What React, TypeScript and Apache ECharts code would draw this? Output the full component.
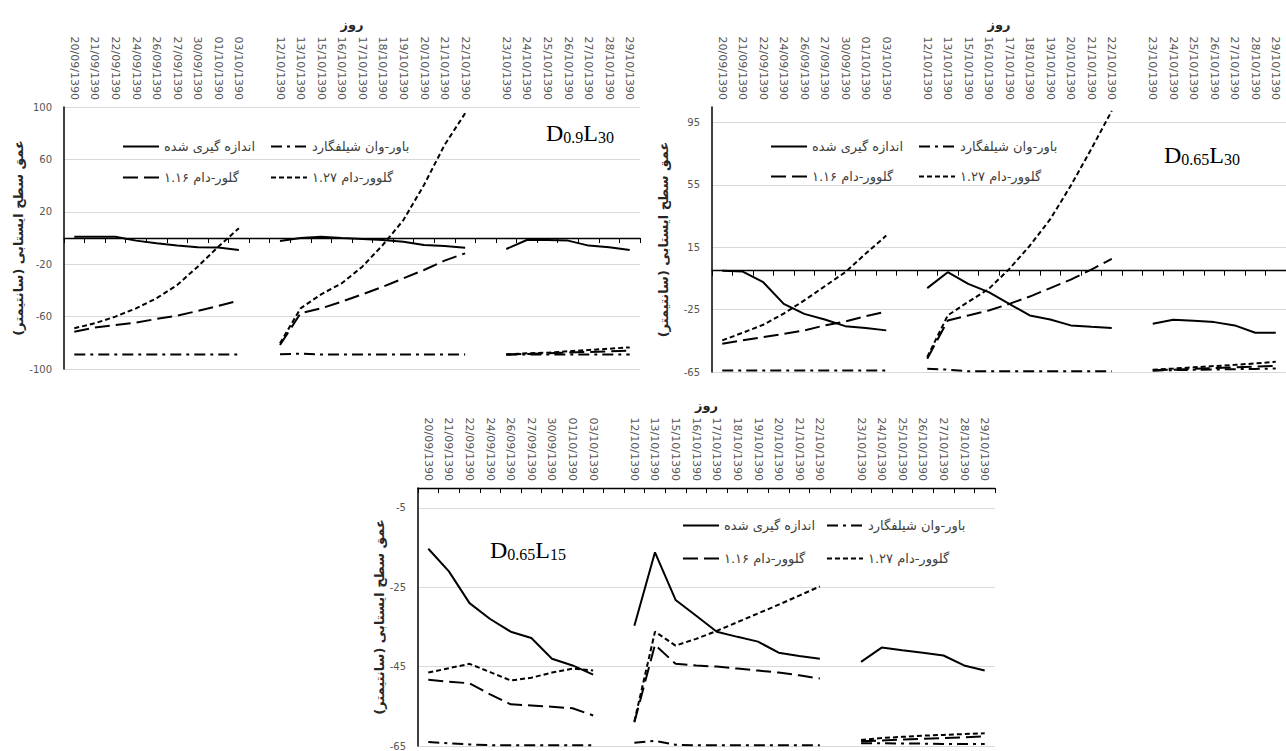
import React, { useEffect, useRef } from "react";
import * as echarts from "echarts";

// ---------- data ----------
const categories = [
  "20/09/1390", "21/09/1390", "22/09/1390", "24/09/1390", "26/09/1390", "27/09/1390",
  "30/09/1390", "01/10/1390", "03/10/1390", " ",
  "12/10/1390", "13/10/1390", "15/10/1390", "16/10/1390", "17/10/1390", "18/10/1390",
  "19/10/1390", "20/10/1390", "21/10/1390", "22/10/1390", "  ",
  "23/10/1390", "24/10/1390", "25/10/1390", "26/10/1390", "27/10/1390", "28/10/1390", "29/10/1390",
];

const nameMeasured = "اندازه گیری شده";
const nameBVS = "باور-وان شیلفگارد";
const nameGD116a = "گلور-دام ۱.۱۶";
const nameGD116 = "گلوور-دام ۱.۱۶";
const nameGD127 = "گلوور-دام ۱.۲۷";
const xName = "روز";
const yName = "\u200Fعمق سطح ایستابی (سانتیمتر)\u200F";

// panel 1 : D0.9L30
const tlMeasured = [1, 1, 1, -2, -4, -5.8, -7, -7.3, -9.2, null, -2.3, 0, 1, 0, -0.8, -1.5, -2.8, -5.3, -6.1, -7.4, null, -8.4, -1.5, -1.5, -2, -5.8, -7, -9.2];
const tlBVS = [-89, -89, -89, -89, -89, -89, -89, -89, -89, null, -88.8, -88.3, -89, -89, -89, -89, -89, -89, -89, -89, null, -89, -89, -89, -89, -89, -89, -89];
const tlGD116 = [-71.5, -68.4, -66.4, -64.6, -61.8, -59.3, -55.7, -51.9, -47.8, null, -81.7, -57.5, -53.7, -48.6, -43, -37.2, -30.8, -24.4, -17.3, -11.7, null, -89, -88.5, -88, -87.5, -87, -86.5, -86];
const tlGD127 = [-68.9, -65.1, -60, -53.7, -46, -35.9, -21.9, -6.6, 7.4, null, -80.4, -53.7, -43, -34.6, -21.9, -5.3, 13.7, 40.5, 71, 95.2, null, -89, -88, -87.5, -86.5, -85.5, -84.5, -83.5];
const tlTicks = [-100, -60, -20, 20, 60, 100];

// panel 2 : D0.65L30
const trMeasured = [0, -0.6, -7.4, -21.3, -27.7, -31.3, -35.6, -36.8, -38.3, null, -11.2, -1, -8.5, -13.8, -21.3, -28.7, -31.3, -35.1, -36, -36.8, null, -34, -31.5, -32.2, -33, -35.1, -39.8, -39.8];
const trBVS = [-64, -64, -64, -64, -64, -64, -64, -64, -64, null, -62.9, -63.5, -64.5, -64.5, -64.5, -64.5, -64.5, -64.5, -64.5, -64.5, null, -64, -63.8, -63.6, -63.4, -63.2, -63, -62.8];
const trGD116 = [-46.9, -44.7, -42.6, -40.5, -38.3, -35.1, -32.6, -29.2, -26.2, null, -56.5, -32, -28.7, -25.5, -21.3, -16.6, -11.2, -5.7, 0.7, 7.5, null, -64, -63.5, -63, -62.5, -62, -61.5, -61];
const trGD127 = [-44.7, -39.8, -34.7, -27.5, -19.1, -10, -1, 11, 22.5, null, -55.4, -28.7, -20, -11.7, 1.1, 16, 33, 54.5, 78, 102.5, null, -63.5, -62.8, -62, -61.2, -60.4, -59.5, -58.5];
const trTicks = [-65, -25, 15, 55, 95];

// panel 3 : D0.65L15
const bMeasured = [-15.3, -21, -29, -33, -36.2, -37.8, -43, -44.7, -47, null, -34.7, -16.2, -28.2, -32.2, -36.2, -37.5, -38.7, -41.5, -42.3, -43, null, -43.8, -40.2, -40.9, -41.5, -42.2, -44.7, -46];
const bBVS = [-64, -64.3, -64.6, -64.8, -64.8, -64.8, -64.8, -64.8, -64.8, null, -64.2, -63.7, -64.7, -64.8, -64.8, -64.8, -64.8, -64.8, -64.8, -64.8, null, -64.3, -64.3, -64.4, -64.4, -64.5, -64.5, -64.5];
const bGD116 = [-48.3, -48.8, -49.2, -52, -54.5, -54.8, -55.1, -55.5, -57.3, null, -59, -39.5, -44.3, -44.7, -45, -45.5, -46, -46.5, -47.2, -48, null, -63.8, -63.6, -63.4, -63.2, -63, -62.8, -62.6];
const bGD127 = [-46.5, -45.4, -44.3, -46.4, -48.5, -47.8, -46.5, -45.5, -46, null, -58.8, -36.2, -39.7, -38, -36, -33.8, -31.6, -29.4, -27.1, -24.8, null, -63.5, -63, -62.7, -62.4, -62.2, -62, -61.8];
const bTicks = [-65, -45, -25, -5];

// ---------- styles ----------
const SANS = "DejaVu Sans";
const SERIF = "Liberation Serif";
const styleMeasured = { color: "#000", width: 2, type: "solid" };
const styleBVS = { color: "#000", width: 2, type: [11, 5, 3, 5] };
const styleGD116 = { color: "#000", width: 2, type: [15, 6] };
const styleGD127 = { color: "#000", width: 2, type: [5, 3] };

const grids = [
  { left: 64, top: 107, width: 576, height: 262 },
  { left: 712, top: 107, width: 580, height: 265 },
  { left: 418, top: 488, width: 577, height: 260 },
];

function labelAxis(gridIndex: number) {
  return {
    type: "category",
    gridIndex,
    position: "top",
    data: categories,
    boundaryGap: true,
    axisLine: { show: false, onZero: false },
    axisTick: { show: false },
    splitLine: { show: false },
    axisLabel: { rotate: 90, interval: 0, margin: 7, fontSize: 11, fontFamily: SANS, color: "#555" },
    name: xName,
    nameLocation: "middle",
    nameGap: 76,
    nameTextStyle: { fontFamily: SANS, fontSize: 13, fontWeight: "bold", color: "#262626" },
  };
}

function zeroAxis(gridIndex: number) {
  return {
    type: "category",
    gridIndex,
    position: "top",
    data: categories,
    boundaryGap: true,
    axisLine: { show: true, onZero: true, lineStyle: { color: "#000", width: 1.3 } },
    axisTick: { show: true, inside: true, length: 5, interval: 0, lineStyle: { color: "#000", width: 1 } },
    axisLabel: { show: false },
    splitLine: { show: false },
  };
}

function valueAxis(gridIndex: number, min: number, max: number, ticks: number[], nameGap: number) {
  return {
    type: "value",
    gridIndex,
    min,
    max,
    axisLine: { show: true, onZero: false, lineStyle: { color: "#000", width: 1.5 } },
    axisTick: { show: false, customValues: ticks },
    axisLabel: { customValues: ticks, fontSize: 10, fontFamily: SANS, color: "#555", margin: 12 },
    splitLine: { show: true, lineStyle: { color: "#d9d9d9", width: 1 } },
    name: yName,
    nameLocation: "middle",
    nameRotate: 90,
    nameGap,
    nameTextStyle: { fontFamily: SANS, fontSize: 13, fontWeight: "bold", color: "#262626" },
  };
}

function lineSeries(name: string, data: (number | null)[], axis: number, lineStyle: any) {
  return {
    type: "line",
    name,
    data,
    xAxisIndex: axis * 2,
    yAxisIndex: axis,
    symbol: "none",
    connectNulls: false,
    lineStyle,
    itemStyle: { color: "#000" },
  };
}

function legendAt(name: string, left: number, centerY: number) {
  return {
    data: [name],
    left,
    top: centerY - 8,
    orient: "horizontal",
    padding: 0,
    itemWidth: 36,
    itemHeight: 10,
    selectedMode: false,
    itemStyle: { color: "rgba(0,0,0,0)", borderWidth: 0, opacity: 0 },
    lineStyle: { color: "#000", opacity: 1 },
    textStyle: { fontFamily: SANS, fontSize: 13, color: "#404040" },
  };
}

function panelLabel(sub1: string, sub2: string, x: number, y: number) {
  return {
    type: "text",
    x,
    y,
    style: {
      text: `{d|D}{s|${sub1}}{d|L}{s|${sub2}}`,
      verticalAlign: "middle",
      align: "left",
      rich: {
        d: { fontFamily: SERIF, fontSize: 24, color: "#000" },
        s: { fontFamily: SERIF, fontSize: 16, color: "#000", verticalAlign: "bottom" },
      },
    },
  };
}

export default function App() {
  const ref = useRef<HTMLDivElement>(null);
  useEffect(() => {
    if (!ref.current) return;
    const chart = echarts.init(ref.current, null, { renderer: "svg" });
    const option: any = {
      animation: false,
      backgroundColor: "#fff",
      grid: grids,
      xAxis: [labelAxis(0), zeroAxis(0), labelAxis(1), zeroAxis(1), labelAxis(2), zeroAxis(2)],
      yAxis: [
        valueAxis(0, -100, 100, tlTicks, 38),
        valueAxis(1, -65, 105, trTicks, 42),
        valueAxis(2, -65, 0, bTicks, 32),
      ],
      legend: [
        legendAt(nameMeasured, 122, 148),
        legendAt(nameBVS, 270, 148),
        legendAt(nameGD116a, 122, 179),
        legendAt(nameGD127, 270, 179),
        legendAt(nameMeasured, 770, 148),
        legendAt(nameBVS, 918, 148),
        legendAt(nameGD116, 770, 178),
        legendAt(nameGD127, 918, 178),
        legendAt(nameMeasured, 682, 527),
        legendAt(nameBVS, 826, 527),
        legendAt(nameGD116, 682, 560),
        legendAt(nameGD127, 826, 560),
      ],
      series: [
        lineSeries(nameMeasured, tlMeasured, 0, styleMeasured),
        lineSeries(nameBVS, tlBVS, 0, styleBVS),
        lineSeries(nameGD116a, tlGD116, 0, styleGD116),
        lineSeries(nameGD127, tlGD127, 0, styleGD127),
        lineSeries(nameMeasured, trMeasured, 1, styleMeasured),
        lineSeries(nameBVS, trBVS, 1, styleBVS),
        lineSeries(nameGD116, trGD116, 1, styleGD116),
        lineSeries(nameGD127, trGD127, 1, styleGD127),
        lineSeries(nameMeasured, bMeasured, 2, styleMeasured),
        lineSeries(nameBVS, bBVS, 2, styleBVS),
        lineSeries(nameGD116, bGD116, 2, styleGD116),
        lineSeries(nameGD127, bGD127, 2, styleGD127),
      ],
      graphic: [
        panelLabel("0.9", "30", 546, 133),
        panelLabel("0.65", "30", 1164, 155),
        panelLabel("0.65", "15", 490, 550),
      ],
    };
    chart.setOption(option);
    return () => chart.dispose();
  }, []);
  return (
    <div
      ref={ref}
      style={{ position: "absolute", left: 0, top: 0, width: 1286, height: 751, background: "#fff" }}
    />
  );
}
